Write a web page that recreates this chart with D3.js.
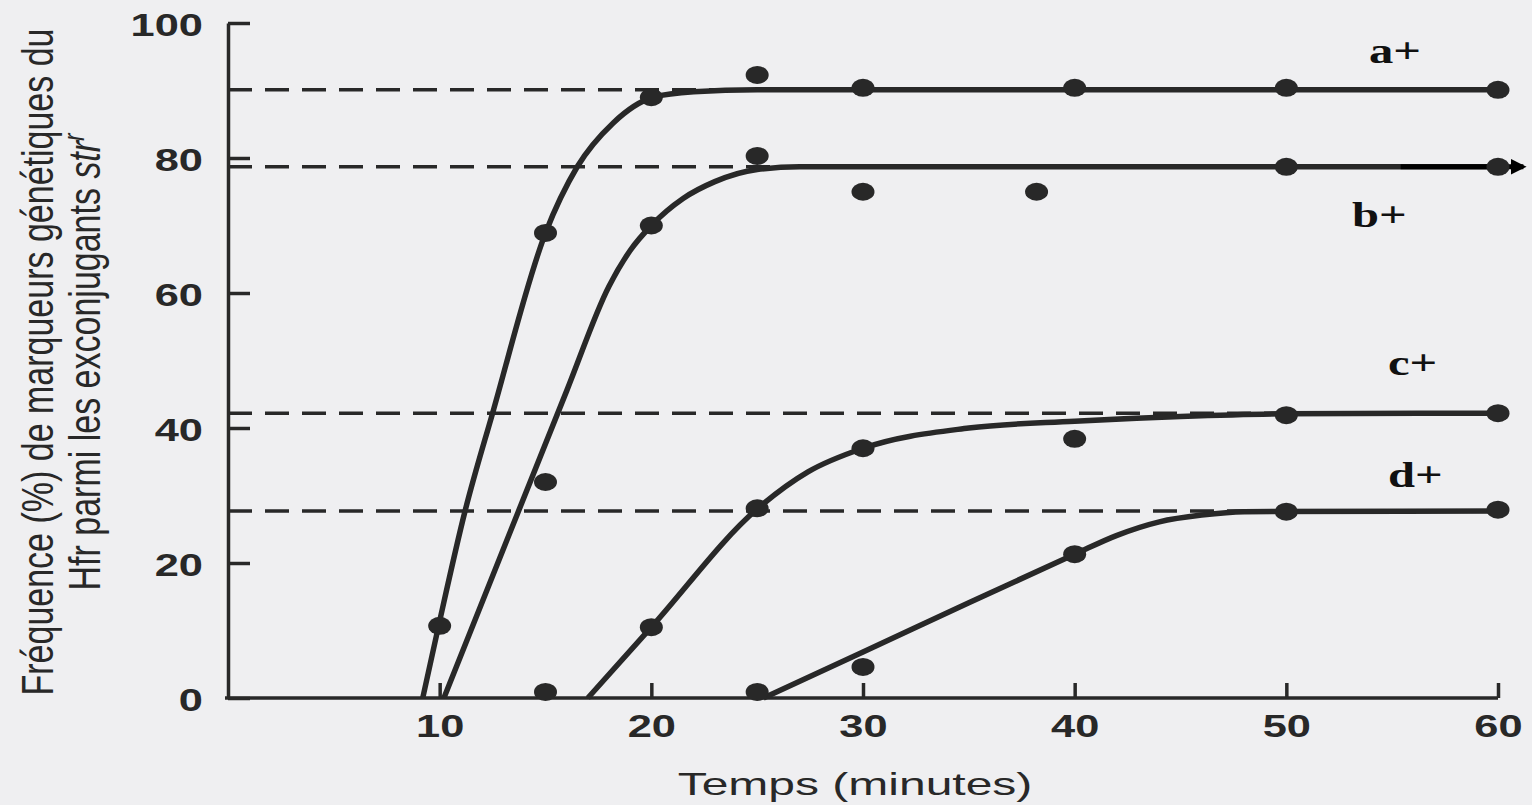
<!DOCTYPE html>
<html>
<head>
<meta charset="utf-8">
<script src="https://cdn.jsdelivr.net/npm/d3@7"></script>
<style>
  html, body { margin: 0; padding: 0; background: #efeff1; }
  svg { display: block; }
</style>
</head>
<body>
<div id="chart"></div>
<script>
// noms des séries et niveaux des plateaux (tirets)
const seriesNames = ["a+", "b+", "c+", "d+"];
const plateauLevels = [90.1, 78.7, 42.2, 27.7];

// points mesurés [temps (min), fréquence %]
const pointsA = [[10, 10.7], [15, 68.9], [20, 89], [25, 92.3], [30, 90.4], [40, 90.4], [50, 90.4], [60, 90.1]];
const pointsB = [[15, 32], [20, 70], [25, 80.3], [30, 75], [38.2, 75], [50, 78.7], [60, 78.7]];
const pointsC = [[15, 0.9], [20, 10.5], [25, 28.1], [30, 37], [40, 38.4], [50, 41.9], [60, 42.2]];
const pointsD = [[25, 0.9], [30, 4.6], [40, 21.3], [50, 27.6], [60, 27.9]];

// courbes tracées
const curveA = [[9.2, 0], [9.95, 10.7], [11.2, 27.7], [12.5, 42.2], [15, 68.9], [16.5, 78.7], [18.2, 85.2], [20.1, 89], [22, 89.8], [25, 90.1], [60, 90.1]];
const curveB = [[10.2, 0], [13, 22], [16, 45.5], [18, 61], [19, 66.3], [20, 70], [21.5, 74], [23, 76.5], [25, 78.3], [27, 78.7], [60, 78.7]];
const curveC = [[17, 0], [20, 10.5], [25, 28], [27.4, 33.5], [30, 37], [35, 40], [40, 41], [45, 41.7], [50, 42.1], [60, 42.2]];
const curveD = [[25.3, 0], [30, 6.8], [35, 14.1], [40, 21.3], [42, 24.1], [44, 26.1], [46, 27.1], [48, 27.6], [60, 27.7]];

// étiquettes des séries (temps, valeur de la ligne de base)
const labelTimes = [53.9, 53.1, 54.8, 54.8];
const labelValues = [94.1, 69.8, 47.9, 31.3];

// flèche noire au bout de b+
const arrowTimes = [55.4, 61.2];

// ticks
const xTicks = [10, 20, 30, 40, 50, 60];
const yTicks = [0, 20, 40, 60, 80, 100];

const ink = "#282828";

class Chart {
  constructor() {
    this.width = 1532;
    this.height = 805;
    this.initSvg();
    this.drawAxes();
    this.drawPlateaus();
    this.drawCurves();
    this.drawPoints();
    this.drawLabels();
  }

  initSvg() {
    this.svg = d3.select("#chart")
      .append("svg")
      .attr("width", this.width)
      .attr("height", this.height);

    this.x = d3.scaleLinear().domain([0, 60]).range([228, 1498]);
    this.y = d3.scaleLinear().domain([0, 100]).range([698, 23]);
  }

  drawAxes() {
    const stretch = 1.4;
    //axe Y, ticks vers l'intérieur
    const axisY = this.svg.append("g")
      .attr("transform", `translate(${this.x(0)},0)`)
      .call(d3.axisLeft(this.y).tickValues(yTicks).tickSizeInner(-22).tickSizeOuter(0).tickPadding(25));
    axisY.selectAll("text")
      .attr("x", null)
      .attr("dy", "0.36em")
      .attr("transform", `translate(-25,1) scale(${stretch},1)`);

    //axe X
    const axisX = this.svg.append("g")
      .attr("transform", `translate(0,${this.y(0)})`)
      .call(d3.axisBottom(this.x).tickValues(xTicks).tickSizeInner(-15).tickSizeOuter(0).tickPadding(17));
    axisX.selectAll("text").attr("transform", `scale(${stretch},1)`);

    [axisX, axisY].forEach((a) => {
      a.selectAll("path, line").attr("stroke", ink).attr("stroke-width", 3.5);
      a.selectAll("text")
        .attr("fill", ink)
        .style("font-family", "'Liberation Sans', Arial, sans-serif")
        .style("font-size", "31px")
        .style("font-weight", "bold");
    });
    axisX.select(".domain").attr("d", `M${this.x(0) - 3},0H${this.x(60)}`);

    // titre axe X
    this.svg.append("text")
      .attr("transform", `translate(855,795) scale(1.5,1)`)
      .attr("text-anchor", "middle")
      .attr("fill", ink)
      .style("font-family", "'Liberation Sans', Arial, sans-serif")
      .style("font-size", "32px")
      .text("Temps (minutes)");

    // titre axe Y (deux lignes)
    this.svg.append("text")
      .attr("transform", `translate(53,362) scale(1.3,1) rotate(-90)`)
      .attr("text-anchor", "middle")
      .attr("fill", ink)
      .style("font-family", "'Liberation Sans', Arial, sans-serif")
      .style("font-size", "34px")
      .text("Fréquence (%) de marqueurs génétiques du");

    const t2 = this.svg.append("text")
      .attr("transform", `translate(100,362) scale(1.3,1) rotate(-90)`)
      .attr("text-anchor", "middle")
      .attr("fill", ink)
      .style("font-family", "'Liberation Sans', Arial, sans-serif")
      .style("font-size", "34px");
    t2.append("tspan").text("Hfr parmi les exconjugants ");
    t2.append("tspan").style("font-style", "italic").text("str");
    t2.append("tspan").style("font-style", "italic").style("font-size", "22px").attr("dy", "-12").text("r");
  }

  //lignes en tirets des plateaux
  drawPlateaus() {
    this.svg.append("g")
      .selectAll("line")
      .data(plateauLevels)
      .join("line")
      .attr("x1", this.x(0))
      .attr("x2", this.x(60))
      .attr("y1", (d) => this.y(d))
      .attr("y2", (d) => this.y(d))
      .attr("stroke", ink)
      .attr("stroke-width", 3.5)
      .attr("stroke-dasharray", "24 13");
  }

  drawCurves() {
    const line = d3.line()
      .x((d) => this.x(d[0]))
      .y((d) => this.y(d[1]))
      .curve(d3.curveMonotoneX);

    this.svg.append("g")
      .selectAll("path")
      .data([curveA, curveB, curveC, curveD])
      .join("path")
      .attr("d", line)
      .attr("fill", "none")
      .attr("stroke", ink)
      .attr("stroke-width", 5.5)
      .attr("stroke-linejoin", "round");

    // flèche noire sur b+
    this.svg.append("defs").append("marker")
      .attr("id", "head")
      .attr("viewBox", "0 0 10 10")
      .attr("refX", 8).attr("refY", 5)
      .attr("markerWidth", 3.2).attr("markerHeight", 3.2)
      .attr("orient", "auto")
      .append("path")
      .attr("d", "M0,0L10,5L0,10Z")
      .attr("fill", "#000");

    this.svg.append("line")
      .attr("x1", this.x(arrowTimes[0]))
      .attr("x2", this.x(arrowTimes[1]))
      .attr("y1", this.y(plateauLevels[1]))
      .attr("y2", this.y(plateauLevels[1]))
      .attr("stroke", "#000")
      .attr("stroke-width", 5)
      .attr("marker-end", "url(#head)");
  }

  drawPoints() {
    const all = [pointsA, pointsB, pointsC, pointsD];
    this.svg.append("g")
      .selectAll("g")
      .data(all)
      .join("g")
      .selectAll("ellipse")
      .data((d) => d)
      .join("ellipse")
      .attr("cx", (d) => this.x(d[0]))
      .attr("cy", (d) => this.y(d[1]))
      .attr("rx", 11.5)
      .attr("ry", 9)
      .attr("fill", ink);
  }

  drawLabels() {
    this.svg.append("g")
      .selectAll("text")
      .data(seriesNames)
      .join("text")
      .attr("transform", (d, i) => `translate(${this.x(labelTimes[i])},${this.y(labelValues[i])}) scale(1.35,1)`)
      .attr("fill", "#111")
      .style("font-family", "'Liberation Serif', 'Times New Roman', serif")
      .style("font-size", "36px")
      .style("font-weight", "bold")
      .text((d) => d);
  }
}

new Chart();
</script>
</body>
</html>
